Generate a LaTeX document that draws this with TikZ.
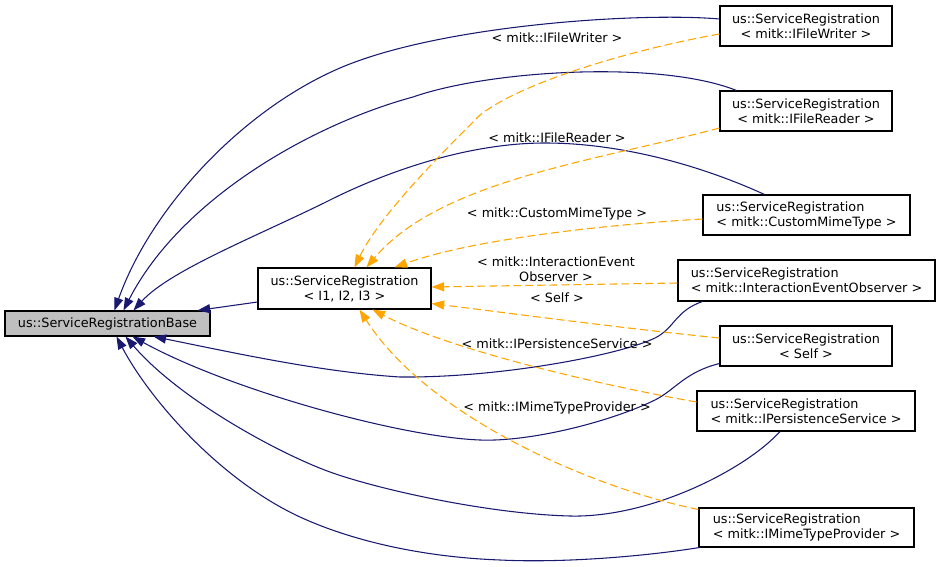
\documentclass[tikz,border=0pt]{standalone}
\usepackage{fontspec}
\setmainfont{DejaVu Sans}
\usetikzlibrary{arrows.meta,calc}
\definecolor{dxblue}{HTML}{191970}
\definecolor{dxorange}{HTML}{FFA500}
\definecolor{dxgray}{HTML}{BFBFBF}
\begin{document}
\begin{tikzpicture}[x=0.75pt,y=-0.75pt,
  every node/.style={font=\fontsize{9.6pt}{11.25pt}\selectfont, inner sep=0pt},
  cls/.style={draw=black, line width=0.8pt, fill=white, align=center},
  clsl/.style={cls, align=left},
  lbl/.style={align=center},
  inh/.style={draw=dxblue, line width=0.8pt, -{Triangle[length=9.5pt,width=6.8pt]}, fill=none},
  tmpl/.style={draw=dxorange, line width=0.8pt, dash pattern=on 6pt off 3pt, -{Triangle[length=9.5pt,width=6.8pt,fill=dxorange]}, fill=none},
]
\path[use as bounding box] (0,0) rectangle (940,567);

% nodes
\node[cls, fill=dxgray, minimum width=153.75pt, minimum height=18.75pt] (base) at (107.5,323.5) {us::ServiceRegistrationBase};
\node[cls, minimum width=129.75pt, minimum height=30.75pt] (tp) at (344.5,288.5) {us::ServiceRegistration\\< I1, I2, I3 >};
\node[cls, minimum width=129pt, minimum height=30pt] (wr) at (806,26) {us::ServiceRegistration\\< mitk::IFileWriter >};
\node[cls, minimum width=129pt, minimum height=30pt] (rd) at (806,111) {us::ServiceRegistration\\< mitk::IFileReader >};
\node[clsl, minimum width=155.25pt, minimum height=30pt] (cm) at (806.5,215) {us::ServiceRegistration\\< mitk::CustomMimeType >};
\node[clsl, minimum width=192.75pt, minimum height=30.75pt] (ieo) at (806.5,280.5) {us::ServiceRegistration\\< mitk::InteractionEventObserver >};
\node[cls, minimum width=129pt, minimum height=30pt] (sf) at (806,346) {us::ServiceRegistration\\< Self >};
\node[clsl, minimum width=163.5pt, minimum height=30pt] (ips) at (806,411) {us::ServiceRegistration\\< mitk::IPersistenceService >};
\node[clsl, minimum width=161.25pt, minimum height=29.25pt] (imtp) at (806.5,527.5) {us::ServiceRegistration\\< mitk::IMimeTypeProvider >};

% inheritance edges (blue)
\draw[inh] ($(wr.west)+(0,-7)$) .. controls (640,12) and (440,25) .. (340,68)
  .. controls (240,111) and (150,210) .. ($(base.north west)+(110,0)$);
\draw[inh] ($(rd.north west)+(17,0)$) .. controls (660,60) and (490,70) .. (413,97)
  .. controls (310,125) and (180,200) .. ($(base.north west)+(119,0)$);
\draw[inh] ($(cm.north west)+(62,0)$) .. controls (700,165) and (620,143) .. (545,143)
  .. controls (470,143) and (390,170) .. (330,200)
  .. controls (260,235) and (170,270) .. ($(base.north west)+(129,0)$);
\draw[inh] ($(tp.west)+(0,13.5)$) -- ($(base.north east)+(-13,0)$);
\draw[inh] ($(ieo.south west)+(25,0)$) .. controls (675,311) and (675,328) .. (655,338)
  .. controls (620,355) and (500,378) .. (400,377)
  .. controls (320,372) and (230,352) .. ($(base.south west)+(149,0)$);
\draw[inh] ($(sf.south west)+(0,-3)$) .. controls (685,372) and (675,390) .. (655,400)
  .. controls (610,422) and (530,442) .. (480,440)
  .. controls (400,437) and (230,390) .. ($(base.south west)+(128,0)$);
\draw[inh] ($(ips.south)+(-26,0)$) .. controls (745,470) and (650,518) .. (570,516)
  .. controls (490,514) and (380,490) .. (330,472)
  .. controls (280,454) and (180,400) .. ($(base.south west)+(121,0)$);
\draw[inh] ($(imtp.south west)+(1,0)$) .. controls (640,557) and (560,563) .. (500,560)
  .. controls (420,557) and (350,540) .. (300,517)
  .. controls (220,480) and (150,400) .. ($(base.south west)+(112,0)$);

% template instantiation edges (orange, dashed)
\draw[tmpl] ($(wr.west)+(0,8)$) .. controls (640,48) and (525,80) .. (480,115)
  .. controls (440,155) and (380,215) .. ($(tp.north west)+(97,0)$);
\draw[tmpl] ($(rd.west)+(0,17)$) .. controls (600,160) and (440,180) .. ($(tp.north west)+(109,0)$);
\draw[tmpl] ($(cm.west)+(0,4)$) .. controls (600,225) and (470,240) .. ($(tp.north west)+(137,0)$);
\draw[tmpl] ($(ieo.west)+(0,2.5)$) -- ($(tp.east)+(0,-1.5)$);
\draw[tmpl] ($(sf.west)+(0,-8)$) .. controls (620,328) and (500,312) .. ($(tp.south east)+(0,-6)$);
\draw[tmpl] ($(ips.west)+(0,-9)$) .. controls (600,385) and (450,350) .. ($(tp.south west)+(115,0)$);
\draw[tmpl] ($(imtp.north west)+(0,2)$) .. controls (600,490) and (430,420) .. ($(tp.south west)+(102,0)$);

% edge labels
\node[lbl] (l1) at (557,38) {< mitk::IFileWriter >};
\node[lbl] (l2) at (557,138) {< mitk::IFileReader >};
\node[lbl] (l3) at (557,214) {< mitk::CustomMimeType >};
\node[lbl] (l4) at (556,269.5) {< mitk::InteractionEvent\\Observer >};
\node[lbl] (l5) at (557,298) {< Self >};
\node[lbl] (l6) at (557,344) {< mitk::IPersistenceService >};
\node[lbl] (l7) at (557,408) {< mitk::IMimeTypeProvider >};
\end{tikzpicture}
\end{document}
